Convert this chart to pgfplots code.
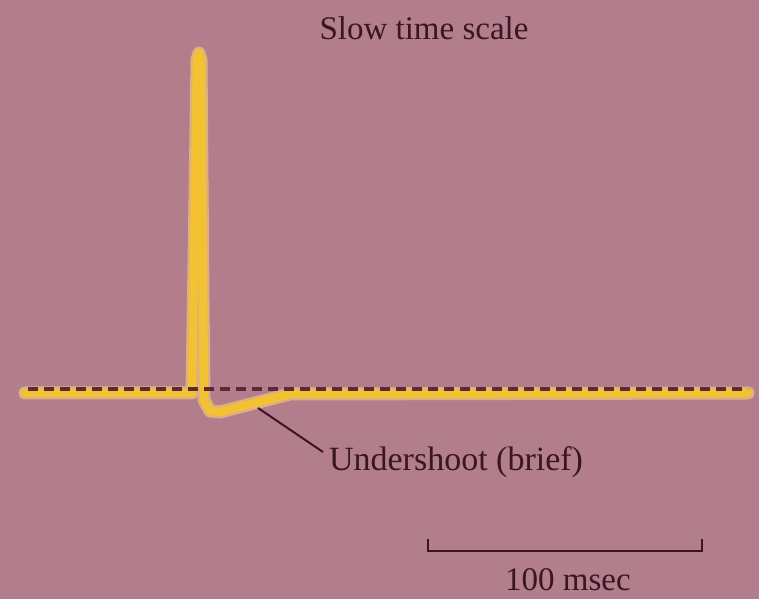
\documentclass[border=0pt]{standalone}
\usepackage{fontspec}
\setmainfont{Liberation Serif}
\usepackage{pgfplots}
\pgfplotsset{compat=1.18}
\definecolor{bg}{HTML}{B27E8C}
\definecolor{trace}{HTML}{F2C232}
\definecolor{glow}{HTML}{E9BC7E}
\definecolor{ink}{HTML}{3A1624}
\definecolor{dashcol}{HTML}{5E2836}
\begin{document}
\begin{tikzpicture}
\begin{axis}[
  hide axis, scale only axis,
  width=379.5pt, height=299.5pt,
  xmin=0, xmax=759, ymin=0, ymax=599,
  clip=false,
]
\fill[bg] (axis cs:0,0) rectangle (axis cs:759,599);
% glow under trace
\addplot[glow, line width=6.5pt, line join=round, line cap=round, opacity=0.8] coordinates {
(25,206) (192,206) (195,399) (197,539) (199,546) (201,539) (203,299) (204,199) (210,188) (220,187) (290,205) (748,206)};
% trace
\addplot[trace, line width=4.2pt, line join=round, line cap=round] coordinates {
(25,206) (192,206) (195,399) (197,539) (199,546) (201,539) (203,299) (204,199) (210,188) (220,187) (290,205) (748,206)};
% dashed baseline
\addplot[dashcol, line width=1.6pt, dash pattern=on 5pt off 3pt] coordinates {(28,210) (748,210)};
% pointer
\addplot[ink, line width=1pt] coordinates {(258,191) (323,147)};
% scale bar
\addplot[ink, line width=1pt] coordinates {(428,60) (428,48) (702,48) (702,60)};
\node[ink, anchor=west, font=\fontsize{17}{19}\selectfont] at (axis cs:322,137) {Undershoot (brief)};
\node[ink, font=\fontsize{16.5}{18}\selectfont] at (axis cs:424,571) {Slow time scale};
\node[ink, font=\fontsize{16.5}{18}\selectfont] at (axis cs:568,19) {100 msec};
\end{axis}
\pgfresetboundingbox
\path (current axis.south west) rectangle (current axis.north east);
\end{tikzpicture}
\end{document}
